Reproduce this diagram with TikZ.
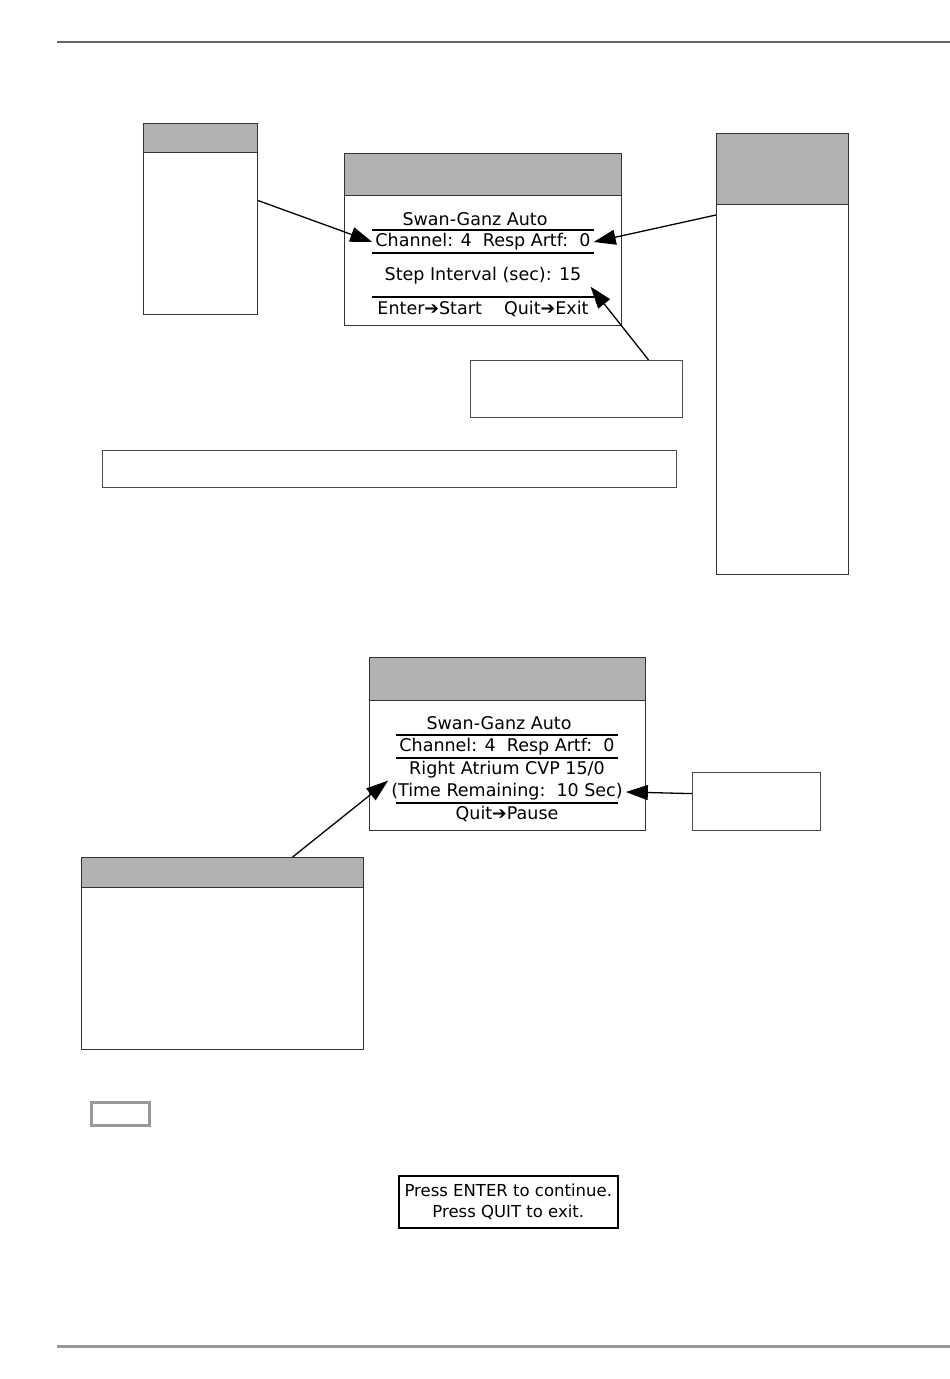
\documentclass[tikz,border=0pt]{standalone}
\usepackage{fontspec}
\setmainfont{DejaVu Sans}
\usetikzlibrary{arrows.meta, positioning}
\tikzset{
    panel/.style={rectangle, draw=black!80, line width=1.2pt, fill=white, anchor=north west, inner sep=0pt},
    header/.style={rectangle, draw=black!80, line width=1.2pt, fill=black!30, anchor=north west, inner sep=0pt},
    note/.style={rectangle, draw=black!70, line width=1.2pt, fill=white, anchor=north west, inner sep=0pt},
    lcd/.style={inner sep=1pt, font=\fontsize{17.5}{20}\selectfont},
    rule/.style={draw=black, line width=1.3pt},
    line/.style={draw, line width=1.3pt, -{Triangle[length=22pt, width=15pt]}}
}

\begin{document}
\begin{tikzpicture}[x=1pt, y=-1pt]
    \useasboundingbox (0,0) rectangle (950,1379);

    % Page rules
    \draw [black!60, line width=1.2pt] (57,42) -- (950,42);
    \draw [black!40, line width=3pt] (57,1346) -- (950,1346);

    % Left and right side boxes
    \node [panel, minimum width=114, minimum height=191] (lbox) at (143,123) {};
    \node [header, minimum width=114, minimum height=29] (lhead) at (lbox.north west) {};
    \node [panel, minimum width=132, minimum height=441] (rbox) at (716,133) {};
    \node [header, minimum width=132, minimum height=71] (rhead) at (rbox.north west) {};

    % First screen
    \node [panel, minimum width=277, minimum height=172] (scr1) at (344,153) {};
    \node [header, minimum width=277, minimum height=42] (head1) at (scr1.north west) {};
    \node [lcd] (title1) at (475,219) {Swan-Ganz Auto};
    \node [lcd] (chan1) at (483,242) {Channel: 4\ \ Resp Artf:\ \ 0};
    \node [lcd] (step1) at (483,276) {Step Interval (sec): 15};
    \node [lcd] (keys1) at (483,309) {Enter➔Start\ \ \ \ Quit➔Exit};
    \draw [rule] (372,230) -- (594,230);
    \draw [rule] (372,253) -- (594,253);
    \draw [rule] (372,297) -- (594,297);

    % Notes below first screen
    \node [note, minimum width=212, minimum height=57] (note1) at (470,360) {};
    \node [note, minimum width=574, minimum height=37] (wide1) at (102,450) {};

    \draw [line] ([yshift=18.5pt]lbox.east) -- ([xshift=-2pt]chan1.west);
    \draw [line] ([yshift=-82pt]rbox.north west) -- ([xshift=2pt]chan1.east);
    \draw [line] ([xshift=72pt]note1.north) -- ([xshift=8pt,yshift=-1pt]step1.south east);

    % Second screen
    \node [panel, minimum width=276, minimum height=173] (scr2) at (369,657) {};
    \node [header, minimum width=276, minimum height=43] (head2) at (scr2.north west) {};
    \node [lcd] (title2) at (499,723) {Swan-Ganz Auto};
    \node [lcd] (chan2) at (507,747) {Channel: 4\ \ Resp Artf:\ \ 0};
    \node [lcd] (atrium2) at (507,770) {Right Atrium CVP 15/0};
    \node [lcd] (time2) at (507,792) {(Time Remaining:\ \ 10 Sec)};
    \node [lcd] (keys2) at (507,814) {Quit➔Pause};
    \draw [rule] (396,735) -- (618,735);
    \draw [rule] (396,758) -- (618,758);
    \draw [rule] (396,803) -- (618,803);

    % Notes round second screen
    \node [note, minimum width=128, minimum height=58] (note2) at (692,772) {};
    \node [panel, minimum width=282, minimum height=192] (bbox) at (81,857) {};
    \node [header, minimum width=282, minimum height=30] (bhead) at (bbox.north west) {};

    \draw [line] ([yshift=8pt]note2.west) -- ([xshift=2pt]time2.east);
    \draw [line] ([xshift=70pt]bbox.north) -- ([xshift=-20pt,yshift=-1pt]atrium2.south west);

    % Key and prompt
    \node [rectangle, draw=black!40, line width=3pt, minimum width=58, minimum height=23, anchor=north west] (key) at (90,1101) {};
    \node [rectangle, draw=black, line width=1.5pt, minimum width=219, minimum height=52, anchor=north west, inner sep=0pt] (press) at (398,1175) {};
    \node [lcd, align=center, font=\fontsize{16.5}{21}\selectfont] (prompt) at (press.center) {Press ENTER to continue.\\Press QUIT to exit.};

\end{tikzpicture}
\end{document}
